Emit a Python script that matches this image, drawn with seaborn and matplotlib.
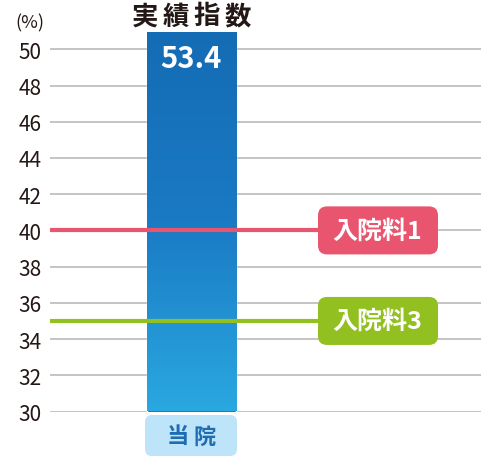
import numpy as np
import pandas as pd
import seaborn as sns
import matplotlib.pyplot as plt
from matplotlib.colors import LinearSegmentedColormap
from matplotlib.patches import FancyBboxPatch

categories = ["当院"]
values = [53.4]
ref_labels = ["入院料1", "入院料3"]
ref_values = [40, 35]
ref_colors = ["#e9546f", "#92c020"]
yticks = list(range(30, 51, 2))
title = "実績指数"

sns.set_theme(style="white")
plt.rcParams["font.family"] = ["Noto Sans CJK JP", "DejaVu Sans"]

fig = plt.figure(figsize=(5, 4.6), dpi=100)
ax = fig.add_axes([50 / 500, 47.5 / 460, 431 / 500, 378.5 / 460])

df = pd.DataFrame({"cat": categories, "val": values})
sns.barplot(data=df, x="cat", y="val", ax=ax, width=0.8, color="#1f75bc", zorder=2)

ylim = (30, 50.9)
xlim = (-1.272, 2.602)

# gradient fill clipped to the bar
bar = ax.patches[0]
cmap = LinearSegmentedColormap.from_list("blu", ["#2aa8e0", "#1a7ac4", "#146cb4"])
grad = np.linspace(0, 1, 256).reshape(-1, 1)
x0, w = bar.get_x(), bar.get_width()
im = ax.imshow(grad, cmap=cmap, aspect="auto", origin="lower",
               extent=[x0, x0 + w, ylim[0], min(values[0], ylim[1])], zorder=3)
im.set_clip_path(bar)
ax.set_xlim(*xlim)
ax.set_ylim(*ylim)

for y in yticks:
    ax.axhline(y, color="#c4c4c4", lw=1.4, zorder=1)

ax.set_yticks(yticks)
ax.set_yticklabels([str(t) for t in yticks], fontsize=15, color="#231815")
ax.tick_params(axis="y", length=0, pad=6)
ax.set_xticks([])
ax.set_xlabel("")
ax.set_ylabel("")
for s in ax.spines.values():
    s.set_visible(False)

px = fig.dpi_scale_trans  # coordinates in inches (1 px = 0.01 in)


def label_box(cx, cy, bw, bh, fc, r=0.09):
    box = FancyBboxPatch(((cx - bw / 2) / 100 + r, (460 - cy - bh / 2) / 100 + r),
                         bw / 100 - 2 * r, bh / 100 - 2 * r,
                         boxstyle=f"round,pad={r},rounding_size={r}",
                         transform=px, fc=fc, ec="none", zorder=6)
    fig.patches.append(box)


def spaced_text(cx, cy, text, step, **kw):
    n = len(text)
    for i, ch in enumerate(text):
        fig.text((cx + (i - (n - 1) / 2) * step) / 500, 1 - cy / 460, ch,
                 ha="center", va="center", fontweight="bold", **kw)


for lab, v, c in zip(ref_labels, ref_values, ref_colors):
    ax.axhline(v, xmin=0, xmax=0.63, color=c, lw=3, zorder=4)
    cy = 460 - ax.transData.transform((0, v))[1]
    label_box(378, cy, 120, 48, c)
    fig.text(377 / 500, 1 - cy / 460, lab, ha="center", va="center", fontsize=18,
             fontweight="bold", color="white", zorder=7)

fig.text(191 / 500, 1 - 59 / 460, f"{values[0]}", ha="center", va="center", fontsize=21,
         fontweight="bold", color="white")

spaced_text(191.5, 17, title, 30.7, fontsize=19, color="#231815")
fig.text(30 / 500, 1 - 23 / 460, "(%)", ha="center", va="center", fontsize=13,
         color="#231815")
label_box(191, 436.5, 92, 41, "#bde4f8", r=0.07)
spaced_text(191.5, 437, categories[0], 27, fontsize=16, color="#1e6db3", zorder=7)

fig.savefig("out.png", dpi=100)
